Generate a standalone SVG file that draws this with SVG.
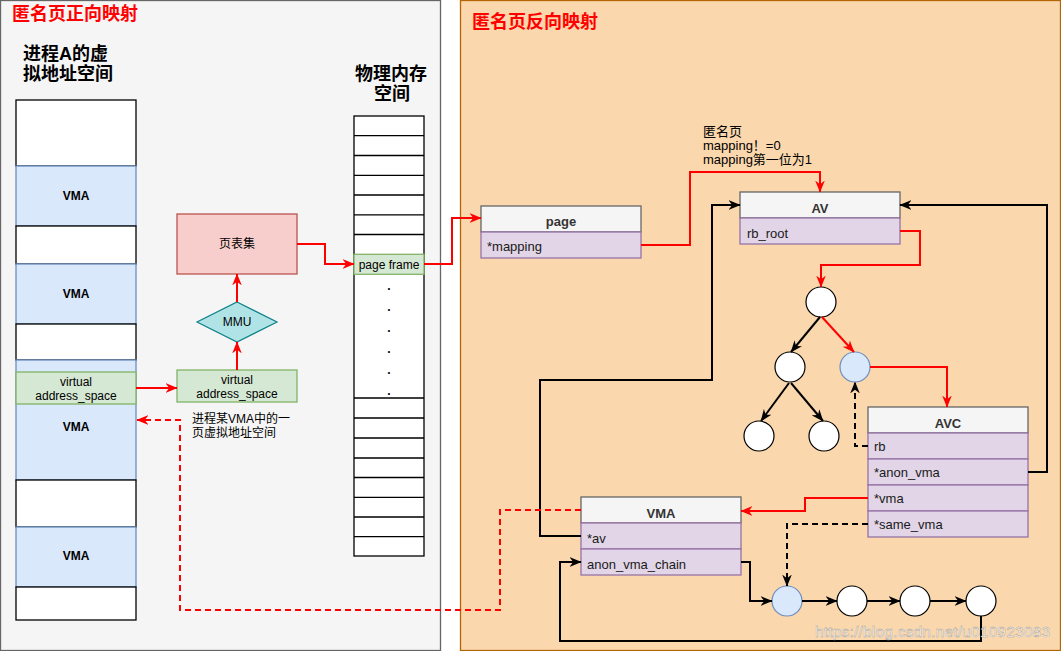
<svg xmlns="http://www.w3.org/2000/svg" width="1061" height="651" viewBox="0 0 1061 651">
<defs>
<marker id="ar" viewBox="0 0 10 8" refX="9.5" refY="4" markerWidth="12" markerHeight="10" markerUnits="userSpaceOnUse" orient="auto"><path d="M0,0 L10,4 L0,8 L3,4 z" fill="#ff0000"/></marker>
<marker id="ab" viewBox="0 0 10 8" refX="9.5" refY="4" markerWidth="12" markerHeight="10" markerUnits="userSpaceOnUse" orient="auto"><path d="M0,0 L10,4 L0,8 L3,4 z" fill="#000000"/></marker>
<style>
text{font-family:"Liberation Sans","Noto Sans CJK SC",Arial,sans-serif;fill:#000}
.t12{font-size:12px}
.t13{font-size:13px}
.b{font-weight:bold}
.c{text-anchor:middle}
.hd{font-size:13px;font-weight:bold;fill:#333;text-anchor:middle}
.row{font-size:13px;fill:#1a1a1a}
.white{fill:#fff;stroke:#000;stroke-width:1.3}
.blue{fill:#dae8fc;stroke:#6c8ebf;stroke-width:1.3}
.green{fill:#d5e8d4;stroke:#82b366;stroke-width:1.3}
.hdr{fill:#f5f5f5;stroke:#666;stroke-width:1.3}
.rw{fill:#e1d5e7;stroke:#9673a6;stroke-width:1.3}
.red{fill:none;stroke:#ff0000;stroke-width:2;marker-end:url(#ar)}
.blk{fill:none;stroke:#000;stroke-width:2;marker-end:url(#ab)}
.dash{stroke-dasharray:6 4}
.node{fill:#fff;stroke:#000;stroke-width:1.2}
.bnode{fill:#dae8fc;stroke:#6c8ebf;stroke-width:1.2}
.ttl{font-size:18px;font-weight:bold;fill:#ff0000}
.big{font-size:18px;font-weight:bold}
</style>
</defs>

<g id="panel-left">
<rect x="0.5" y="0.5" width="440" height="650" fill="#f5f5f5" stroke="#666" stroke-width="1.3"/>
<text class="ttl" x="12" y="20">匿名页正向映射</text>
<text class="big" x="23" y="60">进程A的虚</text>
<text class="big" x="23" y="80">拟地址空间</text>
<text class="big c" x="391" y="80">物理内存</text>
<text class="big c" x="392" y="100">空间</text>
</g>
<g id="panel-right">
<rect x="460.5" y="0.5" width="600" height="650" fill="#fad7ac" stroke="#b46504" stroke-width="1.3"/>
<text class="ttl" x="472" y="28">匿名页反向映射</text>
</g>

<g id="vspace">
<rect class="white" x="16" y="100" width="120" height="66"/>
<rect class="blue" x="16" y="166" width="120" height="60"/>
<text class="t12 b c" x="76" y="200">VMA</text>
<rect class="white" x="16" y="226" width="120" height="38"/>
<rect class="blue" x="16" y="264" width="120" height="60"/>
<text class="t12 b c" x="76" y="298">VMA</text>
<rect class="white" x="16" y="324" width="120" height="36"/>
<rect class="blue" x="16" y="360" width="120" height="120"/>
<text class="t12 b c" x="76" y="431">VMA</text>
<rect class="white" x="16" y="480" width="120" height="47"/>
<rect class="blue" x="16" y="527" width="120" height="60"/>
<text class="t12 b c" x="76" y="560">VMA</text>
<rect class="white" x="16" y="587" width="120" height="33"/>
</g>
<g id="vas-left">
<rect class="green" x="16" y="372" width="120" height="32"/>
<text class="t12 c" x="76" y="386">virtual</text>
<text class="t12 c" x="76" y="400">address_space</text>
</g>
<g id="vas-mid">
<rect class="green" x="177" y="370" width="120" height="32"/>
<text class="t12 c" x="237" y="384">virtual</text>
<text class="t12 c" x="237" y="398">address_space</text>
</g>
<g id="mmu">
<path d="M237,302 L277,322 L237,342 L197,322 z" fill="#b0e3e6" stroke="#0e8088" stroke-width="1.2"/>
<text class="t12 c" x="237" y="326">MMU</text>
</g>
<g id="pagetable">
<rect x="177" y="214" width="120" height="60" fill="#f8cecc" stroke="#b85450" stroke-width="1.3"/>
<text class="t12 c" x="237" y="248">页表集</text>
</g>
<g id="vma-note">
<text class="t12" x="192" y="423">进程某VMA中的一</text>
<text class="t12" x="192" y="437">页虚拟地址空间</text>
</g>

<g id="memory">
<rect class="white" x="354" y="116" width="70" height="440"/>
<path d="M354,135.7H424M354,155.5H424M354,175.3H424M354,195H424M354,214.8H424M354,234.5H424M354,398H424M354,418H424M354,438H424M354,458H424M354,477.5H424M354,497.3H424M354,517H424M354,536.7H424" stroke="#000" stroke-width="1.3" fill="none"/>
<text class="t12 b c" x="389" y="290">.</text>
<text class="t12 b c" x="389" y="311">.</text>
<text class="t12 b c" x="389" y="332">.</text>
<text class="t12 b c" x="389" y="353">.</text>
<text class="t12 b c" x="389" y="374">.</text>
<text class="t12 b c" x="389" y="395">.</text>
</g>
<g id="pageframe">
<rect class="green" x="354" y="254.3" width="70" height="20"/>
<text class="t12 c" x="389" y="268.5">page frame</text>
</g>

<g id="page">
<rect class="hdr" x="481" y="206" width="160" height="26"/>
<rect class="rw" x="481" y="232" width="160" height="26"/>
<text class="hd" x="561" y="226">page</text>
<text class="row" x="487" y="251">*mapping</text>
</g>
<g id="av">
<rect class="hdr" x="740" y="192" width="160" height="26"/>
<rect class="rw" x="740" y="218" width="160" height="26"/>
<text class="hd" x="820" y="213">AV</text>
<text class="row" x="747" y="238">rb_root</text>
</g>
<g id="avc">
<rect class="hdr" x="868" y="407" width="160" height="26"/>
<rect class="rw" x="868" y="433" width="160" height="26"/>
<rect class="rw" x="868" y="459" width="160" height="26"/>
<rect class="rw" x="868" y="485" width="160" height="26"/>
<rect class="rw" x="868" y="511" width="160" height="26"/>
<text class="hd" x="948" y="428">AVC</text>
<text class="row" x="874" y="451">rb</text>
<text class="row" x="874" y="477">*anon_vma</text>
<text class="row" x="874" y="503">*vma</text>
<text class="row" x="874" y="529">*same_vma</text>
</g>
<g id="vma">
<rect class="hdr" x="581" y="497" width="160" height="26"/>
<rect class="rw" x="581" y="523" width="160" height="26"/>
<rect class="rw" x="581" y="549" width="160" height="26"/>
<text class="hd" x="661" y="518">VMA</text>
<text class="row" x="587" y="543">*av</text>
<text class="row" x="587" y="569">anon_vma_chain</text>
</g>
<g id="tree">
<circle class="node" cx="821" cy="302" r="15"/>
<circle class="node" cx="790" cy="367" r="15"/>
<circle class="bnode" cx="855" cy="367" r="15"/>
<circle class="node" cx="759" cy="436" r="15"/>
<circle class="node" cx="824" cy="436" r="15"/>
</g>
<g id="list">
<circle class="bnode" cx="787" cy="601" r="15"/>
<circle class="node" cx="852" cy="601" r="15"/>
<circle class="node" cx="915" cy="601" r="15"/>
<circle class="node" cx="981" cy="601" r="15"/>
</g>
<g id="mapping-note">
<text class="t13" x="703" y="136">匿名页</text>
<text class="t13" x="703" y="150">mapping！=0</text>
<text class="t13" x="703" y="164">mapping第一位为1</text>
</g>

<g id="connectors">
<path class="red" d="M136,388 H177"/>
<path class="red" d="M237,370 V342"/>
<path class="red" d="M237,302 V274"/>
<path class="red" d="M297,244 H325 V264 H354"/>
<path class="red" d="M424,264 H452 V218 H481"/>
<path class="red" d="M641,245 H690 V172 H820 V192"/>
<path class="red" d="M900,231 H920 V265 H821 V287"/>
<path class="blk" d="M820,317 L791,352"/>
<path class="red" d="M822,317 L854,352"/>
<path class="blk" d="M789,383 L761,421"/>
<path class="blk" d="M791,383 L823,421"/>
<path class="red" d="M870,367 H947 V407"/>
<path class="blk dash" d="M868,446 H855 V382"/>
<path class="blk" d="M1028,472 H1047 V205 H900"/>
<path class="red" d="M868,498 H805 V511 H741"/>
<path class="blk dash" d="M868,524 H787 V586"/>
<path class="blk" d="M741,562 H750 V601 H772"/>
<path class="blk" d="M802,601 H837"/>
<path class="blk" d="M867,601 H900"/>
<path class="blk" d="M930,601 H966"/>
<path class="blk" d="M981,616 V641 H560 V562 H581"/>
<path class="blk" d="M581,536 H540 V380 H712 V205 H740"/>
<path class="red dash" d="M581,510 H500 V610 H180 V420 H137"/>
</g>

<text x="815" y="637" textLength="235" style="font-size:15.5px;fill:#fff;fill-opacity:0.85;stroke:#999;stroke-width:0.4">https://blog.csdn.net/u010923083</text>
</svg>
